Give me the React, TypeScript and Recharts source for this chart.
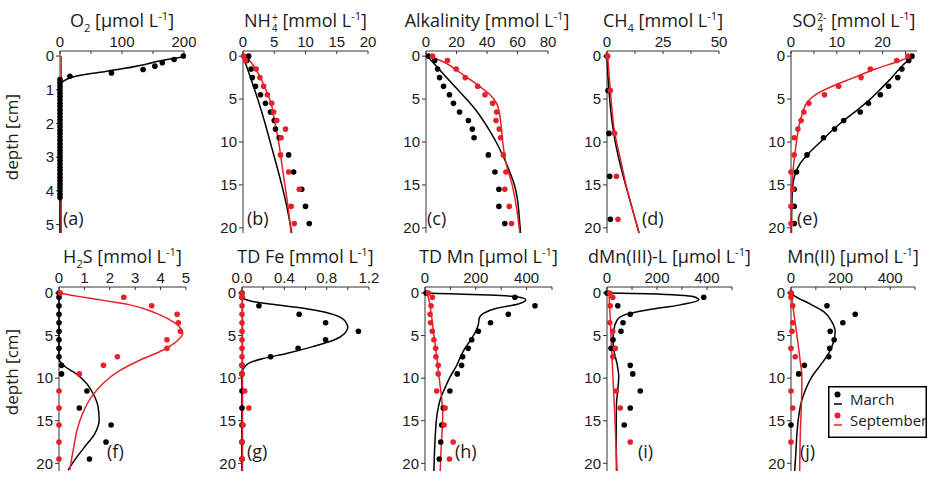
import React from "react"
import { ScatterChart, Scatter, XAxis, YAxis, Legend } from "recharts"

// [concentration, depth in cm]
type P = [number, number]

// (a) O2
const o2MarchDots: P[] = [
  [199, 0], [184, 0.1], [165, 0.2], [153, 0.3], [134, 0.4], [83, 0.5], [16, 0.6],
  [0, 0.7], [0, 0.8], [0, 0.9], [0, 1.0], [0, 1.1], [0, 1.2], [0, 1.3], [0, 1.4], [0, 1.5],
  [0, 1.6], [0, 1.7], [0, 1.8], [0, 1.9], [0, 2.0], [0, 2.1], [0, 2.2], [0, 2.3], [0, 2.4],
  [0, 2.5], [0, 2.6], [0, 2.7], [0, 2.8], [0, 2.9], [0, 3.0], [0, 3.1], [0, 3.2], [0, 3.3],
  [0, 3.4], [0, 3.5], [0, 3.6], [0, 3.7], [0, 3.8], [0, 3.9], [0, 4.0], [0, 4.1], [0, 4.2]
]
const o2MarchLine: P[] = [
  [198, 0.03], [160, 0.15], [129, 0.28], [100, 0.38], [64, 0.48], [35, 0.56], [19, 0.63],
  [5, 0.75], [0, 0.85], [0, 5.25]
]
const o2SeptLine: P[] = [[2, 0], [2, 5.25]]

// (b) NH4+
const nh4MarchDots: P[] = [
  [0.9, 0], [0.6, 0.5], [1.3, 1.5], [1.5, 2.5], [2.0, 3.5], [2.8, 4.5], [3.6, 5.5], [4.4, 6.5],
  [5.0, 7.5], [5.2, 8.5], [5.8, 9.5], [7.3, 11.5], [8.1, 13.5], [9.4, 15.5], [10.0, 17.5], [10.6, 19.5]
]
const nh4SeptDots: P[] = [
  [0.1, 0], [0.4, 0.5], [2.1, 1.5], [2.7, 2.5], [3.3, 3.5], [3.9, 4.5], [4.6, 5.5], [4.9, 6.5],
  [5.4, 7.5], [6.8, 8.5], [6.1, 9.5], [6.0, 11.5], [7.3, 13.5], [9.0, 15.5], [7.7, 17.5], [8.2, 19.5]
]
const nh4MarchLine: P[] = [
  [0, 0], [1.2, 2.5], [2.35, 5], [3.4, 7.5], [4.35, 10], [5.3, 12.5], [6.2, 15], [7.0, 17.5], [7.8, 20.6]
]
const nh4SeptLine: P[] = [
  [0, 0], [1.0, 0.5], [2.0, 1.5], [2.8, 2.5], [3.4, 3.5], [4.0, 4.5], [4.5, 5.5], [4.9, 7], [5.3, 8.5],
  [5.7, 10], [6.2, 12.5], [6.7, 15], [7.2, 17.5], [7.7, 20.6]
]

// (c) Alkalinity
const alkMarchDots: P[] = [
  [1.7, 0], [5.7, 0.5], [7.6, 1.5], [8.9, 2.5], [11.5, 3.5], [15.4, 4.5], [18, 5.5], [22, 6.5],
  [27.8, 7.5], [30.4, 8.5], [31.5, 9.5], [40.9, 11.5], [45.2, 13.5], [47.8, 15.5], [47.8, 17.5], [51.7, 19.5]
]
const alkSeptDots: P[] = [
  [4.3, 0], [14.1, 0.5], [19.8, 1.5], [25.7, 2.5], [33.9, 3.5], [38.7, 4.5], [43.7, 5.5], [46.3, 6.5],
  [45.9, 7.5], [48, 8.5], [48.9, 9.5], [50.7, 11.5], [52.4, 13.5], [51.7, 15.5], [54.6, 17.5], [56.1, 19.5]
]
const alkMarchLine: P[] = [
  [0.7, 0], [6, 1], [13.5, 2.5], [20, 3.75], [26.5, 5], [32.5, 6.25], [37.5, 7.5], [42, 8.75], [46, 10],
  [49.5, 11.25], [52.7, 12.5], [55.5, 13.75], [58, 15], [59.8, 16.5], [60.8, 18], [61.5, 19.5], [62, 20.6]
]
const alkSeptLine: P[] = [
  [1, 0], [9.5, 0.5], [19, 1.5], [27, 2.5], [35, 3.5], [42, 4.5], [46.3, 5.5], [48, 6.5], [49.2, 8],
  [50.3, 10], [52.5, 12.5], [56.5, 15], [59.2, 17.5], [61.5, 20.6]
]

// (d) CH4
const ch4MarchDots: P[] = [[0, 0], [0.45, 4], [0.9, 9], [1.2, 14], [1.5, 19]]
const ch4SeptDots: P[] = [[0.3, 0], [1.5, 4], [3.4, 9], [4.2, 14], [4.9, 19]]
const ch4MarchLine: P[] = [
  [0, 0], [0.5, 2.5], [1.2, 5], [2.2, 7.5], [3.7, 10], [5.8, 12.5], [8.3, 15], [11, 17.5], [14.3, 20.6]
]
const ch4SeptLine: P[] = [[0.3, 0], [1.5, 4], [3.5, 9], [6, 12], [8.5, 15], [11.5, 18], [14.3, 20.6]]

// (e) SO4 2-
const so4MarchDots: P[] = [
  [26.4, 0], [25.7, 0.5], [24.2, 1.5], [23.3, 2.5], [21.3, 3.5], [19.5, 4.5], [16.9, 5.5], [15.1, 6.5],
  [11.5, 7.5], [9.5, 8.5], [7.1, 9.5], [3.5, 11.5], [1.2, 13.5], [0.7, 15.5], [0.7, 17.5], [0.7, 19.5]
]
const so4SeptDots: P[] = [
  [25.5, 0], [23.1, 0.5], [17.3, 1.5], [15.3, 2.5], [10.4, 3.5], [7.3, 4.5], [3.9, 5.5], [2.8, 6.5],
  [2.2, 7.5], [1.5, 8.5], [0.7, 9.5], [0.7, 11.5], [0, 13.5], [0.4, 15.5], [0, 17.5], [0, 19.5]
]
const so4MarchLine: P[] = [
  [26.7, 0], [24.5, 1], [22, 2.5], [19.7, 3.75], [17.3, 5], [14.5, 6.25], [11.5, 7.5], [8.8, 8.75],
  [6.4, 10], [4, 11.25], [2, 12.5], [0.9, 13.75], [0.4, 15], [0.2, 17], [0.1, 20.6]
]
const so4SeptLine: P[] = [
  [26.4, 0], [24, 0.5], [18.4, 1.5], [13.7, 2.5], [9, 3.5], [5.3, 4.5], [3.6, 5.3], [2.6, 6.5],
  [1.8, 8], [1.2, 10], [0.7, 12], [0.35, 14], [0.1, 16], [0, 20.6]
]

// (f) H2S
const h2sMarchDots: P[] = [
  [0, 0], [0, 0.5], [0, 1.5], [0, 2.5], [0, 3.5], [0, 4.5], [0, 5.5], [0, 6.5], [0, 7.5],
  [0.1, 8.5], [0.1, 9.5], [1.1, 11.5], [0.8, 13.5], [2.05, 15.5], [1.85, 17.5], [1.2, 19.5]
]
const h2sSeptDots: P[] = [
  [0.05, 0], [2.55, 0.5], [3.65, 1.5], [4.65, 2.5], [4.7, 3.5], [4.78, 4.5], [4.25, 5.5], [4.25, 6.5],
  [2.3, 7.5], [1.75, 8.5], [0.8, 9.5], [0, 11.5], [0, 13.5], [0, 15.5], [0, 17.5], [0, 19.5]
]
const h2sMarchLine: P[] = [
  [0, 0], [0, 7.6], [0.05, 8.1], [0.22, 8.6], [0.68, 9.5], [1.08, 10.6], [1.34, 11.8], [1.54, 13.4],
  [1.58, 14.9], [1.41, 16.5], [1.0, 18.1], [0.62, 19.6], [0.36, 20.8]
]
const h2sSeptLine: P[] = [
  [0, 0], [0.75, 0.4], [1.8, 0.9], [2.8, 1.4], [3.84, 2.4], [4.5, 3.4], [4.83, 4.35], [4.87, 4.75],
  [4.7, 5.5], [4.1, 6.7], [3.18, 7.9], [2.4, 9.1], [1.74, 10.6], [1.28, 12.2], [0.92, 14.2],
  [0.71, 16.1], [0.58, 18.1], [0.45, 20.3], [0.42, 20.8]
]

// (g) TD Fe
const feMarchDots: P[] = [
  [0, 0], [0, 0.5], [0.16, 1.5], [0.54, 2.5], [0.79, 3.5], [1.1, 4.5], [0.79, 5.5], [0.53, 6.5],
  [0.27, 7.5], [0, 8.5], [0, 9.5], [0, 11.5], [0, 13.5], [0, 15.5], [0, 17.5], [0, 19.5]
]
const feSeptDots: P[] = [
  [0, 0], [0, 0.5], [0, 1.5], [0, 2.5], [0, 3.5], [0, 4.5], [0, 5.5], [0, 6.5], [0, 7.5], [0, 8.5],
  [0, 9.5], [0.025, 11.5], [0.065, 13.5], [0.01, 15.5], [0, 17.5], [0, 19.5]
]
const feMarchLine: P[] = [
  [0, 0], [0.01, 0.5], [0.04, 0.8], [0.1, 1.0], [0.26, 1.3], [0.58, 1.8], [0.83, 2.4], [0.95, 3.0],
  [0.99, 3.65], [1.0, 4.0], [0.97, 4.75], [0.875, 5.5], [0.67, 6.3], [0.42, 7.1], [0.2, 7.7],
  [0.07, 8.2], [0.025, 8.7], [0, 9.3], [0, 20.9]
]
const feSeptLine: P[] = [[0.005, 0], [0.005, 20.9]]

// (h) TD Mn
const mnMarchDots: P[] = [
  [4, 0], [354, 0.5], [433, 1.5], [328, 2.5], [258, 3.5], [210, 4.5], [184, 5.5], [170, 6.5],
  [148, 7.5], [144, 8.5], [127, 9.5], [98, 11.5], [72, 13.5], [66, 15.5], [62, 17.5], [56, 19.5]
]
const mnSeptDots: P[] = [
  [13, 0], [29, 0.5], [24, 1.5], [20, 2.5], [22, 3.5], [29, 4.5], [35, 5.5], [42, 6.5],
  [43, 7.5], [52, 8.5], [52, 9.5], [46, 11.5], [79, 13.5], [75, 15.5], [111, 17.5], [96, 19.5]
]
const mnMarchLine: P[] = [
  [0, 0], [100, 0.1], [250, 0.25], [360, 0.45], [397, 0.8], [367, 1.3], [282, 1.8], [230, 2.4],
  [214, 2.9], [210, 3.7], [200, 4.5], [180, 5.5], [157, 6.5], [140, 7.5], [123, 8.6], [100, 9.8],
  [78, 11.2], [60, 12.5], [50, 13.8], [44, 15.2], [40, 17], [37, 19], [35, 20.9]
]
const mnSeptLine: P[] = [
  [8, 0], [17, 1], [25, 2.5], [33, 4.5], [42, 6.5], [50, 8.5], [58, 10.5], [66, 12.5], [70, 14],
  [68, 16], [64, 18], [60, 20.9]
]

// (i) dMn(III)-L
const dmnMarchDots: P[] = [
  [0, 0], [387, 0.5], [43, 1.5], [93, 2.5], [64, 3.5], [56, 4.5], [24, 5.5], [16, 6.5],
  [93, 8.5], [103, 9.5], [133, 11.5], [93, 13.5], [69, 15.5]
]
const dmnSeptDots: P[] = [
  [11, 0], [23, 0.5], [13, 1.5], [11, 3.5], [23, 4.5], [33, 6.5], [23, 7.5], [37, 11.5], [53, 13.5], [93, 17.5]
]
const dmnMarchLine: P[] = [
  [0, 0], [160, 0.1], [347, 0.45], [367, 0.8], [293, 1.4], [160, 2.0], [67, 2.6], [40, 3.2], [27, 4.35],
  [24, 5.6], [27, 6.7], [40, 8.3], [47, 9.8], [43, 11.4], [38, 13], [37, 16], [38, 20.9]
]
const dmnSeptLine: P[] = [[8, 0], [16, 5], [24, 10], [32, 15], [40, 20.9]]

// (j) Mn(II)
const mn2MarchDots: P[] = [
  [0, 0], [145, 1.5], [259, 2.5], [209, 3.5], [158, 4.5], [174, 5.5], [156, 6.5], [152, 7.5],
  [54, 8.5], [31, 9.5], [0, 15.5]
]
const mn2SeptDots: P[] = [
  [0, 0], [0, 0.5], [7, 1.5], [7, 3.5], [4, 4.5], [0, 6.5], [17, 7.5], [0, 11.5], [7, 13.5], [0, 17.5]
]
const mn2MarchLine: P[] = [
  [0, 0], [17, 0.4], [78, 1.3], [132, 2.2], [165, 3.4], [178, 4.55], [172, 5.7], [152, 7.1], [118, 8.5],
  [85, 9.8], [58, 11.4], [40, 13], [31, 14.5], [24, 16.5], [20, 18.5], [15, 20.9]
]
const mn2SeptLine: P[] = [[0, 0], [12, 2.5], [24, 5], [35, 7.5], [44, 10], [42, 13], [38, 16], [35, 20.9]]

const seasons = ["March", "September"]

const BLACK = "#000000"
const RED = "#e8202a"
const AXIS = "#333333"
const TEXT = "#1a1a1a"
const FONT = "'Open Sans', 'Noto Sans', sans-serif"
const TICK_FONT = "'Liberation Sans', Arial, sans-serif"

const YW = 40
const XH = 24
const MR = 12
const MB = 4

const toPts = (a: P[]) => a.map(([v, d]) => ({ v, d }))

const Dot = (color: string) => (props: any) =>
  <circle cx={props.cx} cy={props.cy} r={2.8} fill={color} />
const NoDot = () => <g />

const sub = (t: string) => <sub style={{ fontSize: "0.62em", lineHeight: 0 }}>{t}</sub>
const sup = (t: string) => <sup style={{ fontSize: "0.62em", lineHeight: 0 }}>{t}</sup>
// stacked sub/superscript (NH4+, SO4 2-)
const stack = (lo: string, hi: string) => (
  <span style={{
    display: "inline-block", verticalAlign: "-5px", fontFamily: TICK_FONT, fontSize: 10,
    lineHeight: "11.5px", textAlign: "left", marginLeft: 1
  }}>
    <span style={{ display: "block" }}>{hi}</span>
    <span style={{ display: "block" }}>{lo}</span>
  </span>
)
const unit = (u: string) => <> [{u} L{sup("-1")}]</>

const ROW1 = { top: 51, h: 182, y: [-0.6, 20.6], title: 11, tag: 209 }
const ROW2 = { top: 287, h: 184, y: [-0.7, 20.9], title: 247, tag: 442 }
const depthTicks = [0, 5, 10, 15, 20]

const every = (labels: number[], digits = 0) => (v: number) =>
  labels.some((l) => Math.abs(l - v) < 1e-9) ? v.toFixed(digits) : ""

const panels = [
  { id: "a", row: ROW1, x0: 60, x1: 184, xd: [0, 200], xt: [0, 50, 100, 150, 200], fmt: every([0, 100, 200]),
    yd: [-0.15, 5.25], yt: [0, 1, 2, 3, 4, 5], title: <>O{sub("2")}{unit("µmol")}</>, tagX: 63,
    mLine: o2MarchLine, sLine: o2SeptLine, mDots: o2MarchDots, sDots: [] as P[] },
  { id: "b", row: ROW1, x0: 243, x1: 368, xd: [0, 20], xt: [0, 5, 10, 15, 20], fmt: every([0, 5, 10, 15, 20]),
    title: <>NH{stack("4", "+")}{unit("mmol")}</>, tagX: 247,
    mLine: nh4MarchLine, sLine: nh4SeptLine, mDots: nh4MarchDots, sDots: nh4SeptDots },
  { id: "c", row: ROW1, x0: 426, x1: 548, xd: [0, 80], xt: [0, 20, 40, 60, 80], fmt: every([0, 20, 40, 60, 80]),
    title: <>Alkalinity{unit("mmol")}</>, tagX: 427,
    mLine: alkMarchLine, sLine: alkSeptLine, mDots: alkMarchDots, sDots: alkSeptDots },
  { id: "d", row: ROW1, x0: 607, x1: 719, xd: [0, 50], xt: [0, 12.5, 25, 37.5, 50], fmt: every([0, 25, 50]),
    title: <>CH{sub("4")}{unit("mmol")}</>, tagX: 642,
    mLine: ch4MarchLine, sLine: ch4SeptLine, mDots: ch4MarchDots, sDots: ch4SeptDots },
  { id: "e", row: ROW1, x0: 791, x1: 917, xd: [0, 27.5], xt: [0, 5, 10, 15, 20, 25], fmt: every([0, 10, 20]),
    title: <>SO{stack("4", "2-")}{unit("mmol")}</>, tagX: 797,
    mLine: so4MarchLine, sLine: so4SeptLine, mDots: so4MarchDots, sDots: so4SeptDots },
  { id: "f", row: ROW2, x0: 59, x1: 186, xd: [0, 5], xt: [0, 1, 2, 3, 4, 5], fmt: every([0, 1, 2, 3, 4, 5]),
    title: <>H{sub("2")}S{unit("mmol")}</>, tagX: 107,
    mLine: h2sMarchLine, sLine: h2sSeptLine, mDots: h2sMarchDots, sDots: h2sSeptDots },
  { id: "g", row: ROW2, x0: 242, x1: 369, xd: [0, 1.2], xt: [0, 0.2, 0.4, 0.6, 0.8, 1.0, 1.2], fmt: every([0, 0.4, 0.8, 1.2], 1),
    title: <>TD Fe{unit("mmol")}</>, tagX: 247,
    mLine: feMarchLine, sLine: feSeptLine, mDots: feMarchDots, sDots: feSeptDots },
  { id: "h", row: ROW2, x0: 425, x1: 552, xd: [0, 500], xt: [0, 100, 200, 300, 400, 500], fmt: every([0, 200, 400]),
    title: <>TD Mn{unit("µmol")}</>, tagX: 455,
    mLine: mnMarchLine, sLine: mnSeptLine, mDots: mnMarchDots, sDots: mnSeptDots },
  { id: "i", row: ROW2, x0: 607, x1: 732, xd: [0, 500], xt: [0, 100, 200, 300, 400, 500], fmt: every([0, 200, 400]),
    title: <>dMn(III)-L{unit("µmol")}</>, tagX: 638,
    mLine: dmnMarchLine, sLine: dmnSeptLine, mDots: dmnMarchDots, sDots: dmnSeptDots },
  { id: "j", row: ROW2, x0: 791, x1: 915, xd: [0, 500], xt: [0, 100, 200, 300, 400, 500], fmt: every([0, 200, 400]),
    title: <>Mn(II){unit("µmol")}</>, tagX: 800,
    mLine: mn2MarchLine, sLine: mn2SeptLine, mDots: mn2MarchDots, sDots: mn2SeptDots, legend: true }
]

function LegendBox() {
  const colors = [BLACK, RED]
  return (
    <svg width={99} height={52} style={{ display: "block" }}>
      <rect x={0.75} y={0.75} width={97.5} height={50.5} fill="#fff" stroke="#000" strokeWidth={1.5} />
      {seasons.map((s, i) => (
        <g key={s} transform={`translate(0, ${i * 21})`}>
          <circle cx={9.5} cy={8.5} r={3} fill={colors[i]} />
          <line x1={6} x2={14} y1={18} y2={18} stroke={colors[i]} strokeWidth={1.5} />
          <text x={22} y={19} fontSize={15} fontFamily={FONT} fill={TEXT}>{s}</text>
        </g>
      ))}
    </svg>
  )
}

function Panel({ p }: { p: any }) {
  const w = p.x1 - p.x0
  const yd = p.yd || p.row.y
  const yt = p.yt || depthTicks
  const tickStyle = { fill: TEXT, fontSize: 15, fontFamily: TICK_FONT }
  return (
    <div style={{ position: "absolute", left: p.x0 - YW, top: p.row.top - XH }}>
      <ScatterChart width={w + YW + MR} height={p.row.h + XH + MB} margin={{ top: 0, right: MR, bottom: MB, left: 0 }}>
        <XAxis type="number" dataKey="v" orientation="top" domain={p.xd} ticks={p.xt} tickFormatter={p.fmt}
          interval={0} height={XH} tickSize={-3} tickMargin={7} stroke={AXIS} tick={tickStyle} />
        <YAxis type="number" dataKey="d" reversed domain={yd} ticks={yt} interval={0} width={YW}
          tickSize={4} tickMargin={2} stroke={AXIS} tick={tickStyle} />
        <Scatter name="March model" data={toPts(p.mLine)} line={{ stroke: BLACK, strokeWidth: 1.5 }}
          lineJointType="monotoneY" shape={NoDot} isAnimationActive={false} />
        <Scatter name="September model" data={toPts(p.sLine)} line={{ stroke: RED, strokeWidth: 1.5 }}
          lineJointType="monotoneY" shape={NoDot} isAnimationActive={false} />
        <Scatter name="March" data={toPts(p.mDots)} shape={Dot(BLACK)} isAnimationActive={false} />
        <Scatter name="September" data={toPts(p.sDots)} shape={Dot(RED)} isAnimationActive={false} />
        {p.legend && (
          <Legend layout="vertical" align="center" verticalAlign="middle" content={() => <LegendBox />}
            wrapperStyle={{ left: 828 - (p.x0 - YW), top: 386 - (p.row.top - XH), width: 99, height: 52 }} />
        )}
      </ScatterChart>
    </div>
  )
}

export default function App() {
  return (
    <div style={{ position: "absolute", left: 0, top: 0, width: 928, height: 477, background: "#fff", fontFamily: FONT, color: TEXT }}>
      {[ROW1, ROW2].map((r, i) => (
        <div key={i} style={{
          position: "absolute", left: 11.5 - 60, top: (i === 0 ? 137 : 372) - 11, width: 120, height: 22,
          lineHeight: "22px", fontSize: 17, textAlign: "center", transform: "rotate(-90deg)", whiteSpace: "nowrap"
        }}>depth [cm]</div>
      ))}
      {panels.map((p) => (
        <React.Fragment key={p.id}>
          <div style={{
            position: "absolute", left: p.x0 - 30, width: p.x1 - p.x0 + 60, top: p.row.title, textAlign: "center",
            fontSize: 18, lineHeight: "18px", whiteSpace: "nowrap"
          }}>{p.title}</div>
          <Panel p={p} />
          <div style={{ position: "absolute", left: p.tagX, top: p.row.tag, fontSize: 18, lineHeight: "18px" }}>({p.id})</div>
        </React.Fragment>
      ))}
    </div>
  )
}
